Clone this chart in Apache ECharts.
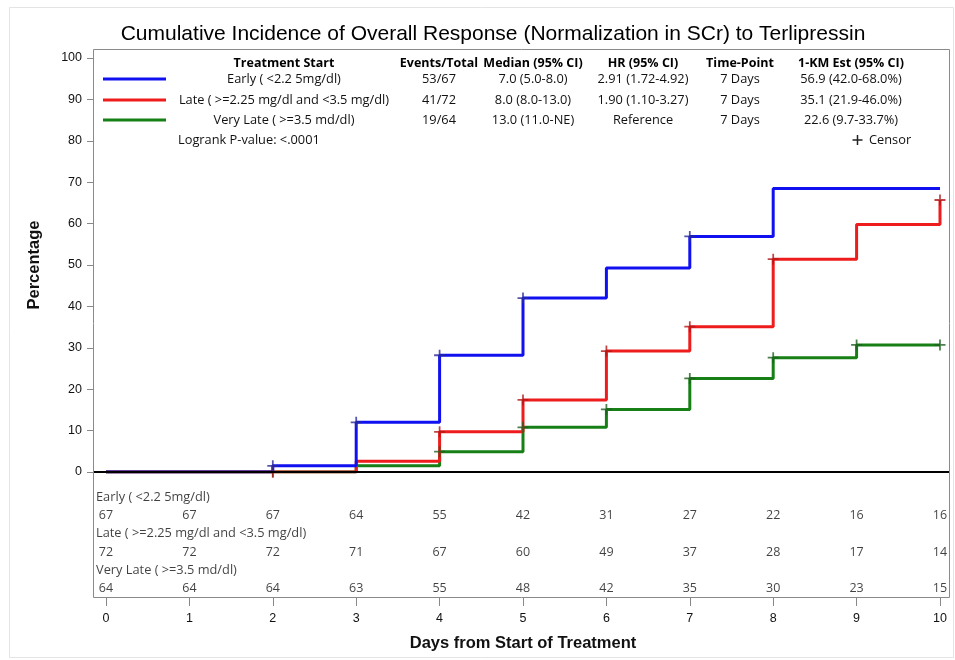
<!DOCTYPE html>
<html>
<head>
<meta charset="utf-8">
<script src="https://cdn.jsdelivr.net/npm/echarts@6/dist/echarts.min.js"></script>
<style>html,body{margin:0;padding:0;background:#fff}#c{width:955px;height:660px}</style>
</head>
<body>
<div id="c"></div>
<script>
// ---------- data ----------
const titleText = 'Cumulative Incidence of Overall Response (Normalization in SCr) to Terlipressin';
const days = [0, 1, 2, 3, 4, 5, 6, 7, 8, 9, 10];
const groupNames = ['Early ( <2.2 5mg/dl)', 'Late ( >=2.25 mg/dl and <3.5 mg/dl)', 'Very Late ( >=3.5 md/dl)'];
const riskGroupNames = ['Early ( <2.2 5mg/dl)', 'Late ( >=2.25 mg/dl and <3.5 mg/dl)', 'Very Late ( >=3.5 md/dl)'];
const earlyPct = [0, 0, 1.5, 12.0, 28.2, 42.0, 49.3, 56.9, 68.5, 68.5, 68.5];
const latePct = [0, 0, 0, 2.6, 9.7, 17.4, 29.2, 35.1, 51.4, 59.8, 65.7];
const veryLatePct = [0, 0, 0, 1.5, 4.9, 10.8, 15.1, 22.6, 27.6, 30.7, 30.7];
const earlyCensorDays = [2, 3, 4, 5, 7];
const lateCensorDays = [2, 4, 5, 6, 7, 8, 10];
const veryLateCensorDays = [2, 4, 5, 6, 7, 8, 9, 10];
const earlyAtRisk = [67, 67, 67, 64, 55, 42, 31, 27, 22, 16, 16];
const lateAtRisk = [72, 72, 72, 71, 67, 60, 49, 37, 28, 17, 14];
const veryLateAtRisk = [64, 64, 64, 63, 55, 48, 42, 35, 30, 23, 15];
const tableHeaders = ['Treatment Start', 'Events/Total', 'Median (95% CI)', 'HR (95% CI)', 'Time-Point', '1-KM Est (95% CI)'];
const eventsTotal = ['53/67', '41/72', '19/64'];
const medians = ['7.0 (5.0-8.0)', '8.0 (8.0-13.0)', '13.0 (11.0-NE)'];
const hrs = ['2.91 (1.72-4.92)', '1.90 (1.10-3.27)', 'Reference'];
const timePoints = ['7 Days', '7 Days', '7 Days'];
const kmEsts = ['56.9 (42.0-68.0%)', '35.1 (21.9-46.0%)', '22.6 (9.7-33.7%)'];
const logrankText = 'Logrank P-value: <.0001';
const censorText = 'Censor';
const xAxisTitle = 'Days from Start of Treatment';
const yAxisTitle = 'Percentage';

// ---------- styles ----------
const colors = ['#1010f0', '#ee1c1c', '#168016'];
const censorColors = ['#2a2a9a', '#b01818', '#1f5f1f'];
const FONT = "'Liberation Sans', Arial, sans-serif";
const TFONT = "'Open Sans', 'Liberation Sans', Arial, sans-serif";
const TSIZE = 12.8;
const plusPath = 'path://M4.2,0h1.6v10h-1.6zM0,4.2h10v1.6h-10z';

const pctSets = [earlyPct, latePct, veryLatePct];
const censorSets = [earlyCensorDays, lateCensorDays, veryLateCensorDays];
const riskSets = [earlyAtRisk, lateAtRisk, veryLateAtRisk];

const series = [];
[2, 1, 0].forEach(g => {
  series.push({
    type: 'line', step: 'end', symbol: 'none', silent: true,
    xAxisIndex: 0, yAxisIndex: 0,
    data: days.map((d, i) => [d, pctSets[g][i]]),
    lineStyle: { color: colors[g], width: 3 },
    z: 3 + (2 - g)
  });
});
[2, 1, 0].forEach(g => {
  series.push({
    type: 'scatter', silent: true, xAxisIndex: 0, yAxisIndex: 0,
    symbol: plusPath, symbolSize: 11,
    data: censorSets[g].map(d => [d, pctSets[g][days.indexOf(d)]]),
    itemStyle: { color: censorColors[g] },
    z: 10
  });
});
riskGroupNames.forEach((name, g) => {
  series.push({
    type: 'scatter', silent: true, xAxisIndex: 1, yAxisIndex: 1,
    symbolSize: 1, itemStyle: { color: 'rgba(0,0,0,0)' },
    data: [[0, g * 2]],
    label: { show: true, position: 'inside', align: 'left', offset: [-10, 0], formatter: () => name,
      fontFamily: TFONT, fontSize: TSIZE, color: '#111' }
  });
  series.push({
    type: 'scatter', silent: true, xAxisIndex: 1, yAxisIndex: 1,
    symbolSize: 1, itemStyle: { color: 'rgba(0,0,0,0)' },
    data: days.map((d, i) => ({ value: [d, g * 2 + 1], n: riskSets[g][i] })),
    label: { show: true, position: 'inside', formatter: p => String(p.data.n),
      fontFamily: TFONT, fontSize: 12.5, color: '#111' }
  });
});

const colX = [284, 439, 533, 643, 740, 851];
const rowY = [79, 100, 120];
const graphics = [];
tableHeaders.forEach((h, c) => {
  graphics.push({ type: 'text', x: colX[c], y: 63, z: 50,
    style: { text: h, fontFamily: TFONT, fontSize: 12.5, fontWeight: 'bold', fill: '#000', textAlign: 'center', textVerticalAlign: 'middle' } });
});
const cols = [groupNames, eventsTotal, medians, hrs, timePoints, kmEsts];
cols.forEach((col, c) => {
  col.forEach((t, r) => {
    graphics.push({ type: 'text', x: colX[c], y: rowY[r], z: 50,
      style: { text: t, fontFamily: TFONT, fontSize: TSIZE, fill: '#111', textAlign: 'center', textVerticalAlign: 'middle' } });
  });
});
rowY.forEach((y, r) => {
  graphics.push({ type: 'line', z: 50, shape: { x1: 103, y1: y, x2: 166, y2: y }, style: { stroke: colors[r], lineWidth: 3 } });
});
graphics.push({ type: 'text', x: 178, y: 140, z: 50,
  style: { text: logrankText, fontFamily: TFONT, fontSize: TSIZE, fill: '#111', textAlign: 'left', textVerticalAlign: 'middle' } });
graphics.push({ type: 'text', x: 869, y: 140, z: 50,
  style: { text: censorText, fontFamily: TFONT, fontSize: TSIZE, fill: '#111', textAlign: 'left', textVerticalAlign: 'middle' } });
graphics.push({ type: 'line', z: 50, shape: { x1: 857.5, y1: 135, x2: 857.5, y2: 145 }, style: { stroke: '#222', lineWidth: 1.5 } });
graphics.push({ type: 'line', z: 50, shape: { x1: 852.5, y1: 140, x2: 862.5, y2: 140 }, style: { stroke: '#222', lineWidth: 1.5 } });
graphics.push({ type: 'rect', z: 1, shape: { x: 93.5, y: 49.5, width: 856, height: 548 }, style: { fill: null, stroke: '#8a8a8a', lineWidth: 1 } });
graphics.push({ type: 'rect', z: 0, shape: { x: 9.5, y: 7.5, width: 944, height: 650 }, style: { fill: null, stroke: '#e4e4e4', lineWidth: 1 } });

const chart = echarts.init(document.getElementById('c'));
chart.setOption({
  backgroundColor: '#fff',
  animation: false,
  title: { text: titleText, left: 488, top: 19, textAlign: 'center',
    textStyle: { fontFamily: FONT, fontSize: 21, fontWeight: 'normal', color: '#000' } },
  grid: [
    { left: 93, right: 6, top: 58, bottom: 188 },
    { left: 106, right: 15, top: 488, bottom: 62 }
  ],
  xAxis: [
    { type: 'value', gridIndex: 0, min: -0.156, max: 10.108, show: false },
    { type: 'value', gridIndex: 1, min: 0, max: 10, interval: 1, position: 'bottom',
      axisLine: { show: false, onZero: false }, splitLine: { show: false },
      axisTick: { show: true, length: 8, lineStyle: { color: '#888' } },
      axisLabel: { margin: 14, fontFamily: FONT, fontSize: 12.5, color: '#111' },
      name: xAxisTitle, nameLocation: 'middle', nameGap: 37,
      nameTextStyle: { fontFamily: FONT, fontSize: 16.5, fontWeight: 'bold', color: '#111' } }
  ],
  yAxis: [
    { type: 'value', gridIndex: 0, min: 0, max: 100, interval: 10, position: 'left',
      axisLine: { show: false, onZero: false }, splitLine: { show: false },
      axisTick: { show: true, length: 6, lineStyle: { color: '#888' } },
      axisLabel: { margin: 11, fontFamily: FONT, fontSize: 12.5, color: '#111' },
      name: yAxisTitle, nameLocation: 'middle', nameGap: 50, nameRotate: 90,
      nameTextStyle: { fontFamily: FONT, fontSize: 16.5, fontWeight: 'bold', color: '#111' } },
    { type: 'value', gridIndex: 1, min: -0.5, max: 5.5, inverse: true, show: false }
  ],
  series: series,
  graphic: graphics
});
const y0 = chart.convertToPixel({ yAxisIndex: 0 }, 0);
chart.setOption({ graphic: graphics.concat([{ type: 'line', z: 100, shape: { x1: 94, y1: y0, x2: 949, y2: y0 }, style: { stroke: '#000', lineWidth: 2 } }]) });
</script>
</body>
</html>
